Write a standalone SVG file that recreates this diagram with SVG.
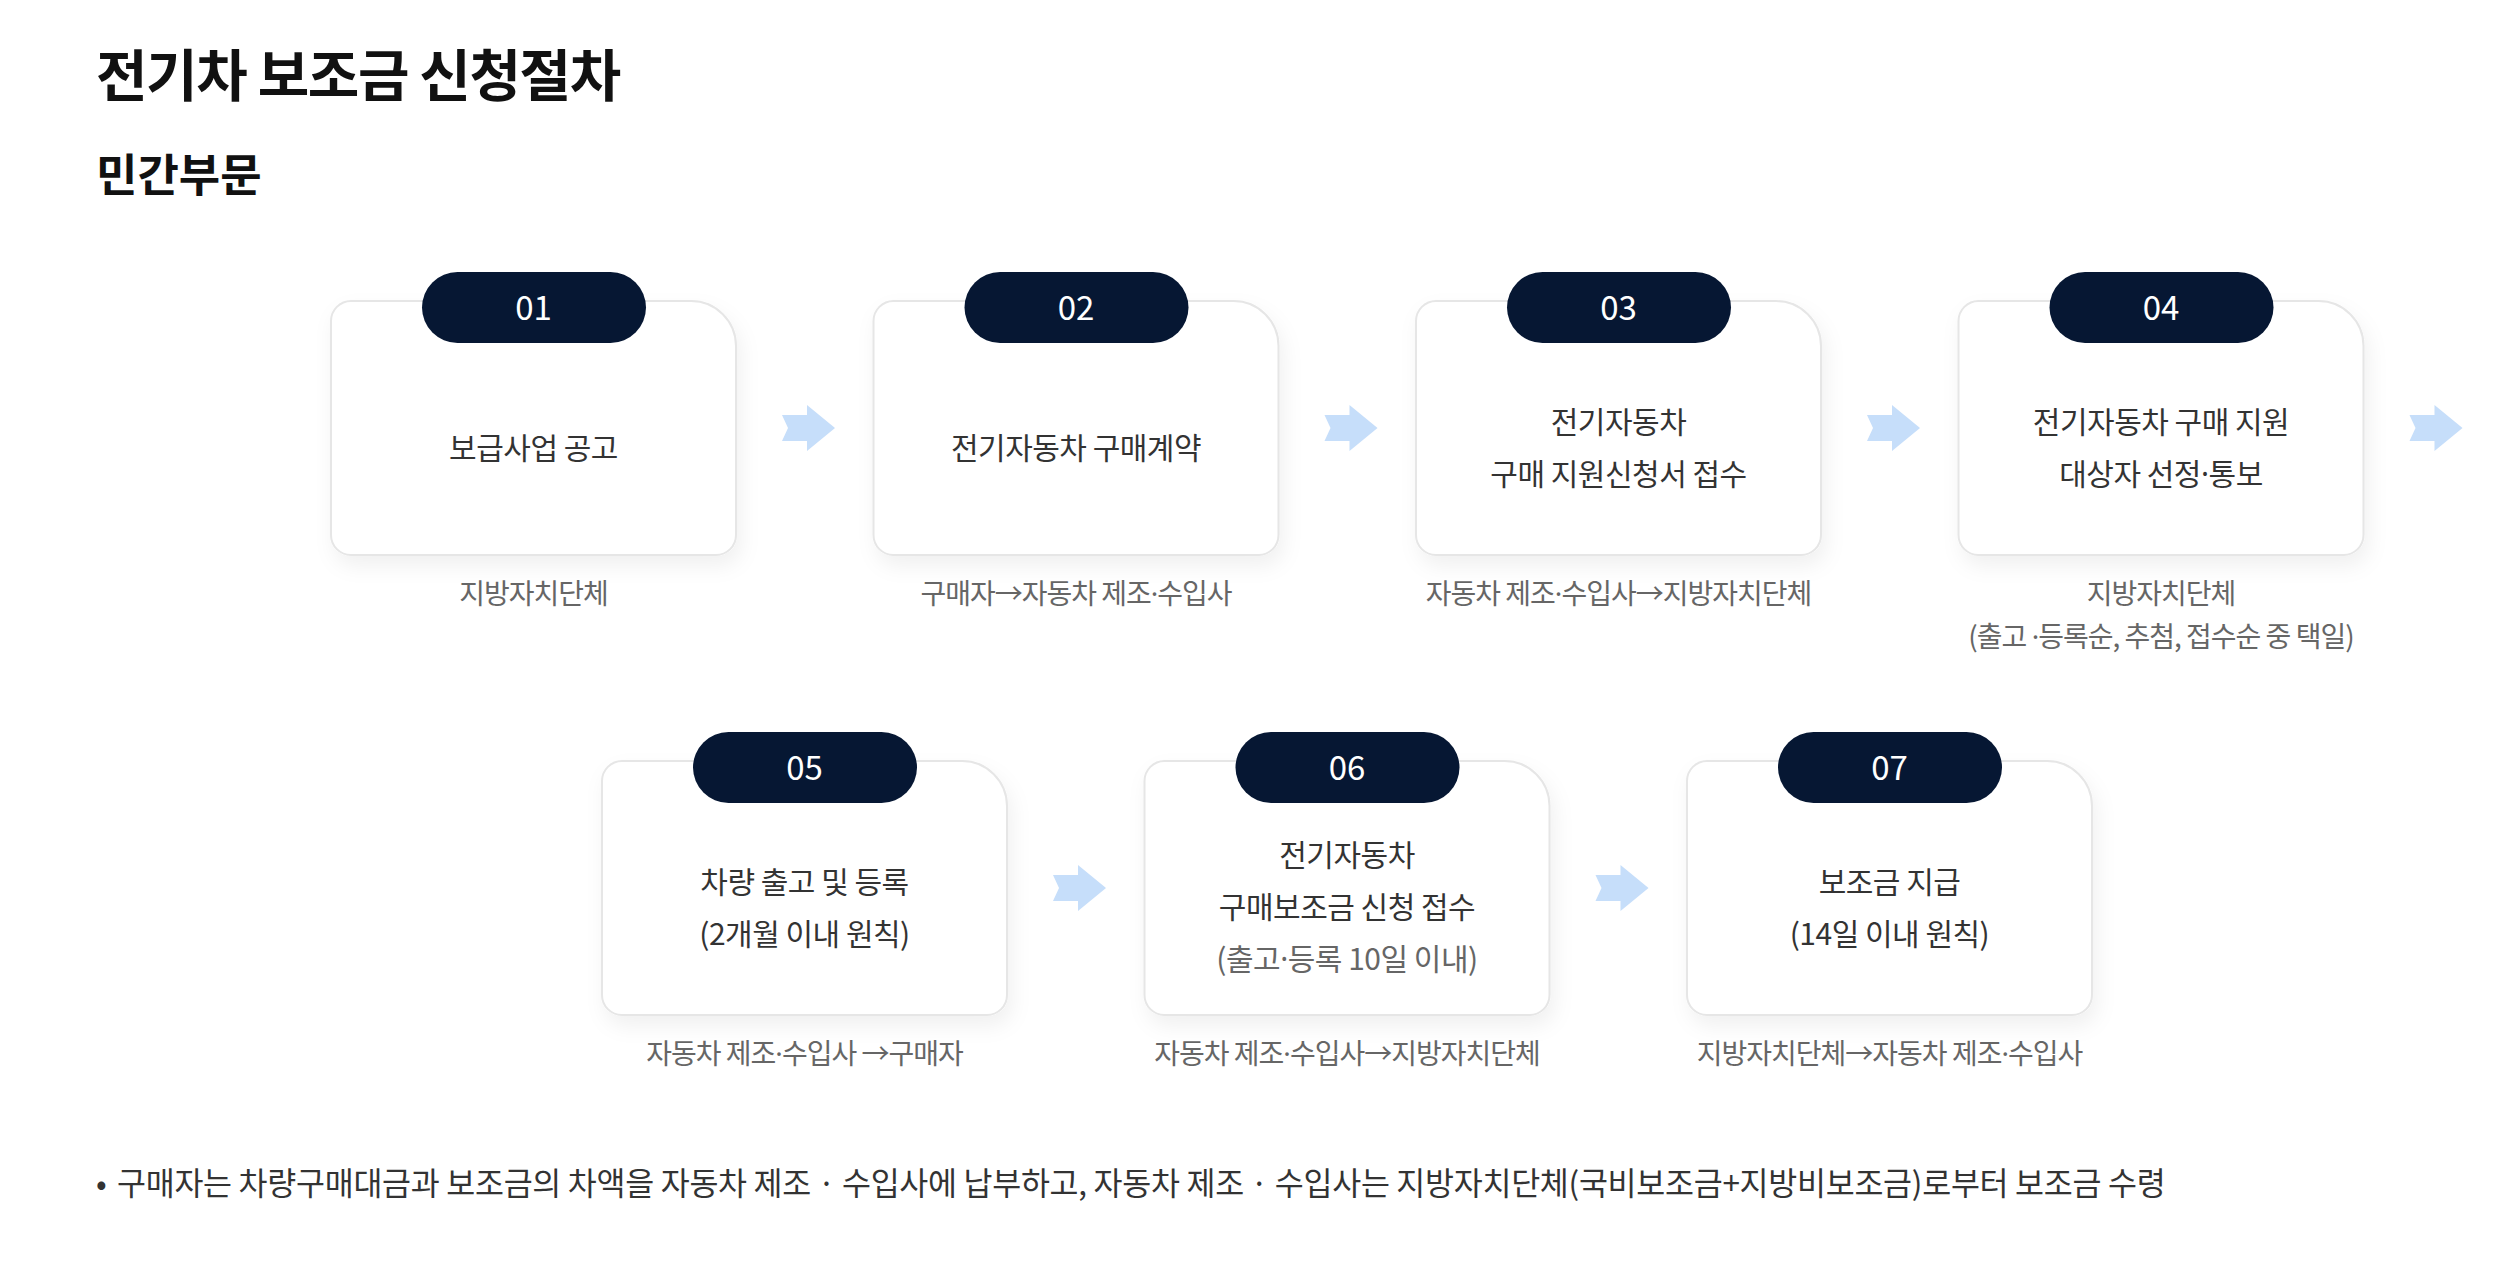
<svg xmlns="http://www.w3.org/2000/svg" width="2508" height="1270" viewBox="0 0 2508 1270">
<style>
text{font-family:"Noto Sans CJK KR","Noto Sans",sans-serif}
.title{font-size:56px;font-weight:700;fill:#111;letter-spacing:-1.4px}
.subtitle{font-size:45px;font-weight:700;fill:#111}
.card{fill:#fff;stroke:#e6e6e6;stroke-width:2;filter:url(#sh)}
.badge{fill:#061733}
.num{fill:#fff;font-size:33px;font-weight:400;text-anchor:middle}
.main{fill:#333;font-size:30px;text-anchor:middle;letter-spacing:-0.5px}
.gray{fill:#666}
.sub{fill:#666;font-size:28px;text-anchor:middle;letter-spacing:-1px}
.dot{font-family:"Noto Sans","DejaVu Sans",sans-serif}
.arrow{fill:#c6defa}
.note{fill:#333;font-size:31.5px;letter-spacing:-0.28px}
</style>
<defs>
<filter id="sh" x="-20%" y="-20%" width="150%" height="160%">
<feDropShadow dx="4" dy="10" stdDeviation="10" flood-color="#000" flood-opacity="0.06"/>
</filter>
<path id="cardShape" d="M20,0 H360 A45,45 0 0 1 405,45 V234 A20,20 0 0 1 385,254 H20 A20,20 0 0 1 0,234 V20 A20,20 0 0 1 20,0 Z"/>
<path id="arr" d="M-28,-13 H-3 V-23 L25,0 L-3,23 V13 H-28 L-22,0 Z"/>
</defs>
<rect width="2508" height="1270" fill="#fff"/>
<text class="title" x="96" y="96">전기차 보조금 신청절차</text>
<text class="subtitle" x="96" y="192">민간부문</text>

<g id="connectors">
<use href="#arr" class="arrow" x="810" y="428"/>
<use href="#arr" class="arrow" x="1352.5" y="428"/>
<use href="#arr" class="arrow" x="1895" y="428"/>
<use href="#arr" class="arrow" x="2437.5" y="428"/>
<use href="#arr" class="arrow" x="1081" y="888"/>
<use href="#arr" class="arrow" x="1623.5" y="888"/>
</g>

<g id="step01">
<use href="#cardShape" class="card" x="331" y="301"/>
<rect class="badge" x="422" y="272" width="224" height="71" rx="35.5"/>
<text class="num" x="533.5" y="320">01</text>
<text class="main" x="533.5" y="459">보급사업 공고</text>
<text class="sub" x="533.5" y="604">지방자치단체</text>
</g>

<g id="step02">
<use href="#cardShape" class="card" x="873.5" y="301"/>
<rect class="badge" x="964.5" y="272" width="224" height="71" rx="35.5"/>
<text class="num" x="1076" y="320">02</text>
<text class="main" x="1076" y="459">전기자동차 구매계약</text>
<text class="sub" x="1076" y="604">구매자→자동차 제조<tspan class="dot">·</tspan>수입사</text>
</g>

<g id="step03">
<use href="#cardShape" class="card" x="1416" y="301"/>
<rect class="badge" x="1507" y="272" width="224" height="71" rx="35.5"/>
<text class="num" x="1618.5" y="320">03</text>
<text class="main" x="1618.5" y="433">전기자동차</text>
<text class="main" x="1618.5" y="485">구매 지원신청서 접수</text>
<text class="sub" x="1618.5" y="604">자동차 제조<tspan class="dot">·</tspan>수입사→지방자치단체</text>
</g>

<g id="step04">
<use href="#cardShape" class="card" x="1958.5" y="301"/>
<rect class="badge" x="2049.5" y="272" width="224" height="71" rx="35.5"/>
<text class="num" x="2161" y="320">04</text>
<text class="main" x="2161" y="433">전기자동차 구매 지원</text>
<text class="main" x="2161" y="485">대상자 선정<tspan class="dot">·</tspan>통보</text>
<text class="sub" x="2161" y="604">지방자치단체</text>
<text class="sub" x="2161" y="647">(출고 <tspan class="dot">·</tspan>등록순, 추첨, 접수순 중 택일)</text>
</g>

<g id="step05">
<use href="#cardShape" class="card" x="602" y="761"/>
<rect class="badge" x="693" y="732" width="224" height="71" rx="35.5"/>
<text class="num" x="804.5" y="780">05</text>
<text class="main" x="804.5" y="893">차량 출고 및 등록</text>
<text class="main" x="804.5" y="945">(2개월 이내 원칙)</text>
<text class="sub" x="804.5" y="1064">자동차 제조<tspan class="dot">·</tspan>수입사 →구매자</text>
</g>

<g id="step06">
<use href="#cardShape" class="card" x="1144.5" y="761"/>
<rect class="badge" x="1235.5" y="732" width="224" height="71" rx="35.5"/>
<text class="num" x="1347" y="780">06</text>
<text class="main" x="1347" y="866">전기자동차</text>
<text class="main" x="1347" y="918">구매보조금 신청 접수</text>
<text class="main gray" x="1347" y="970">(출고<tspan class="dot">·</tspan>등록 10일 이내)</text>
<text class="sub" x="1347" y="1064">자동차 제조<tspan class="dot">·</tspan>수입사→지방자치단체</text>
</g>

<g id="step07">
<use href="#cardShape" class="card" x="1687" y="761"/>
<rect class="badge" x="1778" y="732" width="224" height="71" rx="35.5"/>
<text class="num" x="1889.5" y="780">07</text>
<text class="main" x="1889.5" y="893">보조금 지급</text>
<text class="main" x="1889.5" y="945">(14일 이내 원칙)</text>
<text class="sub" x="1889.5" y="1064">지방자치단체→자동차 제조<tspan class="dot">·</tspan>수입사</text>
</g>

<g id="note">
<text class="note" x="96" y="1195">•</text>
<text class="note" x="117" y="1195">구매자는 차량구매대금과 보조금의 차액을 자동차 제조 · 수입사에 납부하고, 자동차 제조 · 수입사는 지방자치단체(국비보조금+지방비보조금)로부터 보조금 수령</text>
</g>
</svg>
